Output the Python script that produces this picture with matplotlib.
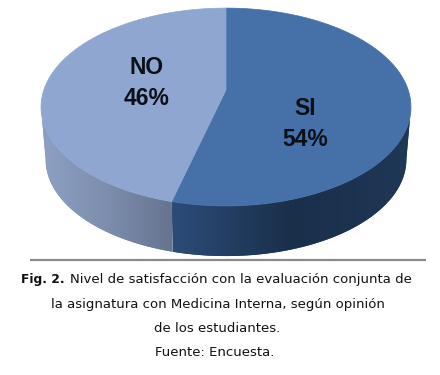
import numpy as np
import matplotlib
matplotlib.use('Agg')
import matplotlib.pyplot as plt
from matplotlib.colors import LinearSegmentedColormap
from matplotlib.patches import Polygon

labels = ['SI', 'NO']
values = [54, 46]
percents = ['54%', '46%']
label_pos = [(305, 124), (147, 83)]

top_colors = ['#4570a8', '#8fa7d0']
side_colors = [['#2c4c78', '#1a2f4a', '#1f3857'], ['#8ea1c4', '#7d8eae', '#66748f']]

caption_lines = [
    'la asignatura con Medicina Interna, según opinión',
    'de los estudiantes.',
    'Fuente: Encuesta.',
]

# pie geometry in pixels
cx, cy = 226, 90
rx, ry = 182.2, 96
k = 0.172
depth = 53
shrink = 0.975


def rim(a, scale=1.0, dy=0.0):
    # circle seen in perspective, far side is smaller
    a = np.radians(a)
    w = 1 + k * np.sin(a)
    return cx + scale * rx * np.cos(a) / w, cy - scale * ry * np.sin(a) / w + dy


fig = plt.figure(figsize=(4.4, 3.75), dpi=100)
ax = fig.add_axes([0, 0, 1, 1])
ax.set_xlim(0, 440)
ax.set_ylim(375, 0)
ax.axis('off')

angles = 90 - np.cumsum([0] + values) * 3.6
# widest points of the ellipse, the wall outline runs between them
widest = np.degrees(np.arcsin(k))
front = [(-widest, angles[1]), (angles[1], -180 + widest)]
split_x = rim(angles[1])[0]

for i in range(2):
    # side wall first, top face goes over it
    a = np.linspace(front[i][0], front[i][1], 150)
    x1, y1 = rim(a)
    x2, y2 = rim(a[::-1], shrink, depth)
    wall = Polygon(np.column_stack([np.r_[x1, x2], np.r_[y1, y2]]), fc=side_colors[i][1], ec='none', zorder=1)
    ax.add_patch(wall)
    cmap = LinearSegmentedColormap.from_list('side', side_colors[i])
    left, right = (split_x, 412) if i == 0 else (40, split_x)
    im = ax.imshow(np.linspace(0, 1, 200).reshape(1, -1), cmap=cmap, extent=[left, right, 265, 100],
                   aspect='auto', zorder=1)
    im.set_clip_path(wall)

for i in range(2):
    a = np.linspace(angles[i], angles[i + 1], 200)
    x, y = rim(a)
    ax.add_patch(Polygon(np.column_stack([np.r_[cx, x], np.r_[cy, y]]), fc=top_colors[i], ec=top_colors[i],
                         lw=0.5, zorder=2))

ax.set_xlim(0, 440)
ax.set_ylim(375, 0)

for i in range(2):
    ax.text(label_pos[i][0], label_pos[i][1], labels[i] + '\n' + percents[i], ha='center', va='center',
            family='Liberation Sans', weight='bold', fontsize=16.5, color='#0a0f18',
            linespacing=1.45, zorder=3)

ax.plot([30, 426], [259.5, 259.5], color='#8a8a8a', lw=1.6, solid_capstyle='butt')

cap = dict(family='DejaVu Sans', fontsize=9.55, color='#111111', va='baseline')
ax.text(21, 283, 'Fig. 2.', weight='bold', ha='left', **{**cap, 'fontsize': 8.8})
ax.text(70, 283, 'Nivel de satisfacción con la evaluación conjunta de', ha='left', **cap)
ax.text(218, 308, caption_lines[0], ha='center', **cap)
ax.text(217, 332, caption_lines[1], ha='center', **cap)
ax.text(215, 356, caption_lines[2], ha='center', **cap)

fig.savefig('out.png', dpi=100)
